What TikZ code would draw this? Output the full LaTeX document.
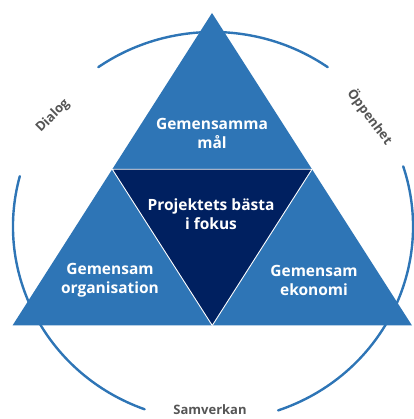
\documentclass[tikz,border=0pt]{standalone}
\usepackage{fontspec}
\setmainfont{Open Sans}
\usetikzlibrary{calc}
\definecolor{blaa}{RGB}{46,117,182}
\definecolor{marin}{RGB}{0,32,96}
\definecolor{etikett}{RGB}{85,85,85}
\begin{document}
\begin{tikzpicture}[x=1pt,y=1pt,
  falt/.style={text=white, font=\bfseries\fontsize{15.5}{19}\selectfont, align=center},
  ord/.style={text=etikett, font=\bfseries\fontsize{13}{15}\selectfont},
  bage/.style={blaa, line width=2.4, line cap=round}]
  \useasboundingbox (0,0) rectangle (413,419);
  % Cirkeln i tre bågar
  \coordinate (M) at (213,192.5);
  \draw[bage] ([shift={(55:200 and 194.5)}]M) arc[start angle=55, end angle=125, x radius=200, y radius=194.5];
  \draw[bage] ([shift={(165:200 and 194.5)}]M) arc[start angle=165, end angle=250, x radius=200, y radius=194.5];
  \draw[bage] ([shift={(-71:200 and 194.5)}]M) arc[start angle=-71, end angle=18, x radius=200, y radius=194.5];
  % Triangelns hörn
  \coordinate (A) at (212,406);
  \coordinate (V) at (12.5,93.5);
  \coordinate (H) at (412,93.5);
  % Mittpunkter
  \coordinate (MV) at ($(A)!0.5!(V)$);
  \coordinate (MH) at ($(A)!0.5!(H)$);
  \coordinate (MB) at ($(V)!0.5!(H)$);
  \fill[blaa] (A) -- (V) -- (H) -- cycle;
  \filldraw[marin, draw=white, line width=0.9] (MV) -- (MH) -- (MB) -- cycle;
  % Fälten
  \node[falt] (mal) at (212,285.5) {Gemensamma\\mål};
  \node[falt] (fokus) at (211,205) {Projektets bästa\\i fokus};
  \node[falt] (org) at (110,139) {Gemensam\\organisation};
  \node[falt] (eko) at (314,139) {Gemensam\\ekonomi};
  % Ord runt cirkeln
  \node[ord, rotate=45] (dialog) at (53,303) {Dialog};
  \node[ord, rotate=-53] (oppen) at (370,302) {Öppenhet};
  \node[ord] (samv) at (210,9) {Samverkan};
\end{tikzpicture}
\end{document}
